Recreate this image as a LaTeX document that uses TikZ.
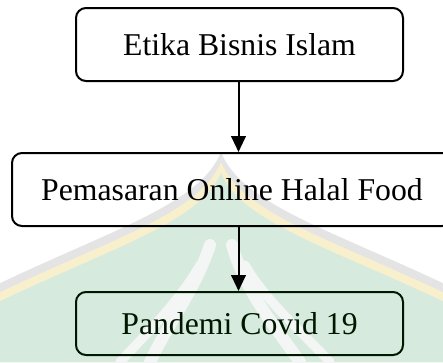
\documentclass[tikz,border=0pt]{standalone}
\usepackage{fontspec}
\setmainfont{Liberation Serif}
\usetikzlibrary{arrows.meta}
\definecolor{wmgreen}{RGB}{214,234,222}
\definecolor{wmyellow}{RGB}{248,240,205}
\definecolor{wmgrey}{RGB}{228,228,228}
\definecolor{wmleaf}{RGB}{244,246,245}
\tikzset{
  flowbox/.style={draw, line width=1.5pt, rounded corners=7.5pt, fill=none,
    font=\fontsize{23.8}{28}\selectfont, inner sep=0pt},
  flowarrow/.style={line width=1.5pt, -{Triangle[length=12pt,width=11pt]}},
}
\begin{document}
\begin{tikzpicture}[x=0.75pt,y=-0.75pt]
  \clip (0,0) rectangle (443,362);
  \fill[white] (0,0) rectangle (443,362);
  % background emblem: pointed dome with grey and yellow rims
  \fill[wmgrey] (-10,288) .. controls (110,230) and (200,205) .. (221,152)
        .. controls (242,205) and (332,230) .. (453,288) -- (453,362) -- (-10,362) -- cycle;
  \fill[wmyellow] (-10,297) .. controls (110,239) and (200,214) .. (221,162)
        .. controls (242,214) and (332,239) .. (453,297) -- (453,362) -- (-10,362) -- cycle;
  \fill[wmgreen] (-10,306) .. controls (110,248) and (200,223) .. (221,173)
        .. controls (242,223) and (332,248) .. (453,306) -- (453,362) -- (-10,362) -- cycle;
  % pale leaves inside the dome
  \draw[wmleaf, line width=9pt, line cap=round] (150,362) .. controls (170,320) and (195,290) .. (210,245);
  \draw[wmleaf, line width=9pt, line cap=round] (300,362) .. controls (270,320) and (245,290) .. (232,245);
  \draw[wmleaf, line width=7pt, line cap=round] (120,362) .. controls (150,330) and (180,300) .. (200,265);
  \draw[wmleaf, line width=7pt, line cap=round] (330,362) .. controls (300,330) and (265,300) .. (245,265);

  % flow boxes
  \node[flowbox, minimum width=327*0.75pt, minimum height=73*0.75pt] (etika) at (239.5,44.5) {Etika Bisnis Islam};
  \node[flowbox, minimum width=440*0.75pt, minimum height=73*0.75pt] (pemasaran) at (232,189.5) {Pemasaran Online Halal Food};
  \node[flowbox, minimum width=327*0.75pt, minimum height=63*0.75pt, draw=black!85!green!60!black, text=black!85!green!60!black] (pandemi) at (239.5,323.5) {Pandemi Covid 19};

  % connectors
  \draw[flowarrow] (etika.south -| 238.5,0) -- (pemasaran.north -| 238.5,0);
  \draw[flowarrow] (pemasaran.south -| 238.5,0) -- (pandemi.north -| 238.5,0);
\end{tikzpicture}
\end{document}
